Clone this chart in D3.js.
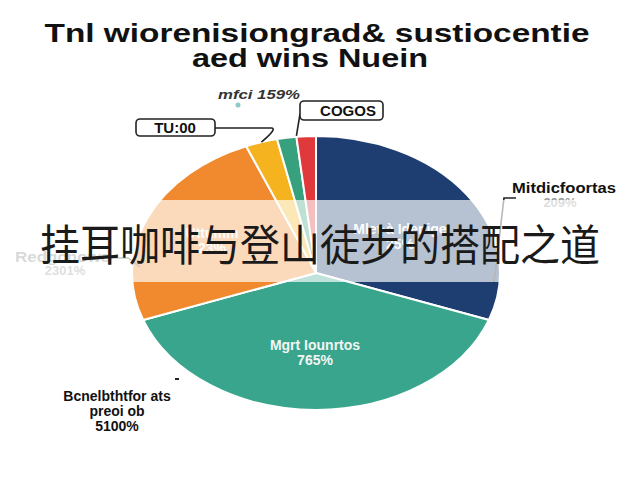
<!DOCTYPE html>
<html><head><meta charset="utf-8">
<script src="https://cdn.jsdelivr.net/npm/d3@7"></script>
<style>body{margin:0;background:#fff}svg{display:block}</style>
</head><body>
<script>
const titleLines = ["Tnl wiorenisiongrad& sustiocentie", "aed wins Nuein"];
const categories = ["Mitdicfoortas", "Mgrt Iounrtos", "Redgcnowe", "TU:00", "mfci", "COGOS"];
const values = [30.6, 38.9, 24.4, 2.8, 1.7, 1.7];
const pctLabels = ["209%", "765%", "2301%", "", "159%", ""];
const colors = ["#1e3e72", "#39a58c", "#f1892e", "#f5b320", "#37a07d", "#e0393b"];
const innerLabels = [["Mlet·à Idenige", "25%"], ["Mgrt Iounrtos", "765%"], ["Uttumm", "23%"]];
const bottomLabel = ["Bcnelbthtfor ats", "preoi ob", "5100%"];
const banner = "挂耳咖啡与登山徒步的搭配之道";

const W = 640, H = 480;
const svg = d3.select("body").append("svg").attr("width", W).attr("height", H);
const cx = 316, cy = 273, rx = 184, ry = 137;

// title
svg.append("text").attr("x", 317).attr("y", 42).attr("text-anchor", "middle")
  .attr("font-family", "Liberation Sans, Arial, sans-serif").attr("font-weight", "bold")
  .attr("font-size", 25).attr("fill", "#111")
  .attr("textLength", 545).attr("lengthAdjust", "spacingAndGlyphs").text(titleLines[0]);
svg.append("text").attr("x", 310).attr("y", 67).attr("text-anchor", "middle")
  .attr("font-family", "Liberation Sans, Arial, sans-serif").attr("font-weight", "bold")
  .attr("font-size", 25).attr("fill", "#111")
  .attr("textLength", 236).attr("lengthAdjust", "spacingAndGlyphs").text(titleLines[1]);

// pie
const pie = d3.pie().sort(null).value(d => d).startAngle(0).endAngle(2 * Math.PI);
const arcs = pie(values);
const arc = d3.arc().innerRadius(0).outerRadius(rx);
const g = svg.append("g").attr("transform", `translate(${cx},${cy}) scale(1,${ry / rx})`);
g.selectAll("path").data(arcs).enter().append("path")
  .attr("d", arc).attr("fill", (d, i) => colors[i])
  .attr("stroke", "#fff").attr("stroke-width", 2).attr("vector-effect", "non-scaling-stroke");

// helper: point on ellipse at angle
function ept(a, f) { return [cx + Math.sin(a) * rx * f, cy - Math.cos(a) * ry * f]; }

const lineStyle = sel => sel.attr("fill", "none").attr("stroke", "#222").attr("stroke-width", 1.6);
const font = "Liberation Sans, Arial, sans-serif";

// inner labels
const inner = [
  { i: 0, x: 400, y: 234 }, { i: 1, x: 315, y: 350 }, { i: 2, x: 212, y: 238 }
];
inner.forEach((o, k) => {
  const t = innerLabels[k];
  svg.append("text").attr("x", o.x).attr("y", o.y).attr("text-anchor", "middle")
    .attr("font-family", font).attr("font-weight", "bold").attr("font-size", 14).attr("fill", "#f2f6f5").text(t[0]);
  svg.append("text").attr("x", o.x).attr("y", o.y + 15).attr("text-anchor", "middle")
    .attr("font-family", font).attr("font-weight", "bold").attr("font-size", 14).attr("fill", "#f2f6f5").text(t[1]);
});

// right label (navy)
{
  const a = (arcs[0].startAngle + arcs[0].endAngle) / 2 + 0.62;
  const p = ept(a, 1.0);
  svg.append("path").attr("d", `M${p[0] - 6},${p[1] + 8} L${p[0] + 4},198 L516,198`).call(lineStyle);
  svg.append("text").attr("x", 512).attr("y", 193).attr("font-family", font).attr("font-weight", "bold")
    .attr("font-size", 14).attr("fill", "#111").attr("textLength", 104).attr("lengthAdjust", "spacingAndGlyphs").text(categories[0]);
  svg.append("text").attr("x", 560).attr("y", 207).attr("text-anchor", "middle").attr("font-family", font).attr("font-weight", "bold")
    .attr("font-size", 13).attr("fill", "#999").text(pctLabels[0]);
}

// left label (orange)
svg.append("path").attr("d", "M110,258 L128,258 L140,267").attr("fill", "none").attr("stroke", "#555").attr("stroke-width", 1.4);
svg.append("text").attr("x", 15).attr("y", 262).attr("font-family", font).attr("font-weight", "bold")
  .attr("font-size", 14).attr("fill", "#888").attr("textLength", 95).attr("lengthAdjust", "spacingAndGlyphs").text(categories[2]);
svg.append("text").attr("x", 65).attr("y", 275).attr("text-anchor", "middle").attr("font-family", font).attr("font-weight", "bold")
  .attr("font-size", 13).attr("fill", "#999").text(pctLabels[2]);

// TU:00 callout (yellow)
{
  const a = (arcs[3].startAngle + arcs[3].endAngle) / 2;
  const p = ept(a, 1.0);
  svg.append("path").attr("d", `M215,128 L272,128 Q277,129 ${p[0]},${p[1]}`).call(lineStyle);
  svg.append("rect").attr("x", 136).attr("y", 119).attr("width", 79).attr("height", 17).attr("rx", 4)
    .attr("fill", "#fff").attr("stroke", "#222").attr("stroke-width", 1.6);
  svg.append("text").attr("x", 175).attr("y", 133).attr("text-anchor", "middle").attr("font-family", font).attr("font-weight", "bold")
    .attr("font-size", 15).attr("fill", "#111").text(categories[3]);
}

// mfci label (green)
svg.append("text").attr("x", 218).attr("y", 99).attr("font-family", font).attr("font-style", "italic").attr("font-weight", "bold")
  .attr("font-size", 12).attr("fill", "#333").attr("textLength", 82).attr("lengthAdjust", "spacingAndGlyphs")
  .text(categories[4] + " " + pctLabels[4]);
svg.append("circle").attr("cx", 238).attr("cy", 105).attr("r", 2.5).attr("fill", "#8fc9c9");

// COGOS callout (red)
{
  const a = arcs[5].startAngle;
  const p = ept(a, 1.0);
  svg.append("path").attr("d", `M${p[0]},${p[1] - 1} L300,114`).call(lineStyle);
  svg.append("rect").attr("x", 300).attr("y", 101).attr("width", 83).attr("height", 19).attr("rx", 4)
    .attr("fill", "#fff").attr("stroke", "#222").attr("stroke-width", 1.6);
  svg.append("text").attr("x", 348).attr("y", 116).attr("text-anchor", "middle").attr("font-family", font).attr("font-weight", "bold")
    .attr("font-size", 15).attr("fill", "#111").text(categories[5]);
}

// bottom-left label
svg.append("rect").attr("x", 175).attr("y", 378).attr("width", 4).attr("height", 2).attr("fill", "#222");
bottomLabel.forEach((t, i) => {
  svg.append("text").attr("x", 117).attr("y", 401 + i * 15).attr("text-anchor", "middle").attr("font-family", font)
    .attr("font-weight", "bold").attr("font-size", 14).attr("fill", "#111").text(t);
});

// banner overlay
svg.append("rect").attr("x", 0).attr("y", 200).attr("width", W).attr("height", 82).attr("fill", "#fff").attr("fill-opacity", 0.68);
svg.append("text").attr("x", 320).attr("y", 261).attr("text-anchor", "middle")
  .attr("font-family", "Noto Sans CJK SC, sans-serif").attr("font-size", 43).attr("fill", "#1a1a1a")
  .attr("textLength", 560).attr("lengthAdjust", "spacingAndGlyphs").text(banner);
</script>
</body></html>
